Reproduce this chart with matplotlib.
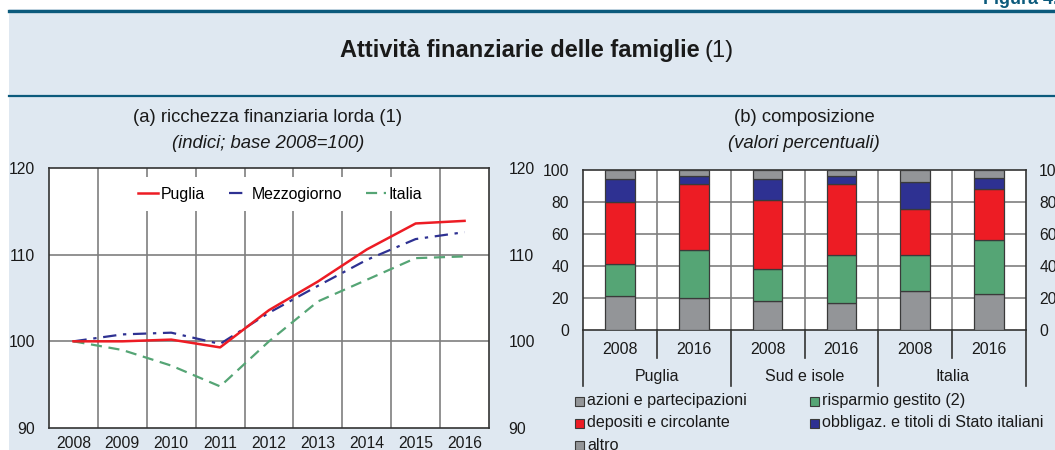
import matplotlib.pyplot as plt
import matplotlib.patches as mpatches
import numpy as np

plt.rcParams['font.family'] = ['Liberation Sans', 'DejaVu Sans']

# (a) ricchezza finanziaria lorda, indici 2008=100
years = ['2008', '2009', '2010', '2011', '2012', '2013', '2014', '2015', '2016']
puglia = [100.0, 100.0, 100.2, 99.3, 103.6, 106.9, 110.6, 113.6, 113.9]
mezzogiorno = [100.0, 100.8, 101.0, 99.7, 103.3, 106.4, 109.4, 111.8, 112.6]
italia = [100.0, 99.0, 97.2, 94.8, 100.0, 104.6, 107.1, 109.6, 109.8]

# (b) composizione, valori percentuali
bar_years = ['2008', '2016', '2008', '2016', '2008', '2016']
groups = ['Puglia', 'Sud e isole', 'Italia']
azioni = [21.1, 19.9, 18.0, 16.7, 24.3, 22.4]
risparmio = [20.1, 30.4, 20.1, 30.2, 22.4, 34.0]
depositi = [38.7, 41.0, 43.3, 44.4, 28.8, 31.8]
obbligaz = [14.2, 4.9, 12.7, 4.7, 17.1, 6.9]
altro = [5.9, 3.8, 5.9, 4.0, 7.4, 4.9]

bg = '#dfe8f1'
navy = '#0b5a7c'
grid_c = '#7f7f7f'
grey_c = '#939598'
green_c = '#55a575'
red_c = '#ed1c24'
blue_c = '#2e3192'
txt_c = '#1a1a1a'

fig = plt.figure(figsize=(10.55, 4.5), dpi=100)
fig.patch.set_facecolor('white')
# panel background and rules
fig.patches.append(mpatches.Rectangle((9/1055, 0), 1, 1 - 9/450, transform=fig.transFigure,
                                      facecolor=bg, edgecolor='none', zorder=-10))
fig.add_artist(plt.Line2D([9/1055, 1], [1 - 10.5/450]*2, color=navy, lw=2.4))
fig.add_artist(plt.Line2D([9/1055, 1], [1 - 96/450]*2, color=navy, lw=1.6))
fig.text(1058/1055, 1 - 4/450, 'Figura 4.', ha='right', va='baseline', color=navy,
         fontsize=13, fontweight='bold')

fig.text(700/1055, 1 - 51/450, 'Attività finanziarie delle famiglie', ha='right',
         va='center', fontsize=17, fontweight='bold', color=txt_c)
fig.text(705/1055, 1 - 51/450, '(1)', ha='left', va='center', fontsize=17, color=txt_c)

fig.text(268/1055, 1 - 117/450, '(a) ricchezza finanziaria lorda (1)', ha='center',
         va='center', fontsize=13.3, color=txt_c)
fig.text(268/1055, 1 - 143/450, '(indici; base 2008=100)', ha='center', va='center',
         fontsize=13.3, style='italic', color=txt_c)
fig.text(804/1055, 1 - 117/450, '(b) composizione', ha='center', va='center',
         fontsize=13.3, color=txt_c)
fig.text(804/1055, 1 - 143/450, '(valori percentuali)', ha='center', va='center',
         fontsize=13.3, style='italic', color=txt_c)

# ---------- panel (a)
ax1 = fig.add_axes([49/1055, 1 - 428/450, 440/1055, 260/450])
ax1.set_facecolor('white')
x = np.arange(len(years))
ax1.plot(x, puglia, color=red_c, lw=1.8, label='Puglia', zorder=4)
ax1.plot(x, mezzogiorno, color=blue_c, lw=1.6, dashes=(6, 3, 1.5, 3), label='Mezzogiorno', zorder=3)
ax1.plot(x, italia, color=green_c, lw=1.6, dashes=(5, 3), label='Italia', zorder=3)
ax1.set_xlim(-0.5, len(years) - 0.5)
ax1.set_ylim(90, 120)
ax1.set_yticks([90, 100, 110, 120])
ax1.set_xticks(x)
ax1.set_xticklabels(years)
for b in np.arange(0.5, len(years) - 0.5, 1):
    ax1.axvline(b, color=grid_c, lw=1.2, zorder=1)
for v in [100, 110]:
    ax1.axhline(v, color=grid_c, lw=1.2, zorder=1)
ax1.tick_params(axis='both', length=0, labelsize=11.3, colors=txt_c)
ax1.tick_params(axis='y', pad=10)
ax1.tick_params(axis='x', pad=6)
for s in ax1.spines.values():
    s.set_color('#333333')
    s.set_linewidth(1.2)
leg = ax1.legend(loc='center', bbox_to_anchor=(0.525, 0.9), ncol=3, frameon=True,
                 facecolor='white', edgecolor='none', framealpha=1, fontsize=11.4,
                 handlelength=1.3, handletextpad=0.15, columnspacing=1.5,
                 borderpad=0.6, fancybox=False)
leg.set_zorder(5)
ax1r = ax1.twinx()
ax1r.set_ylim(90, 120)
ax1r.set_yticks([90, 100, 110, 120])
ax1r.tick_params(axis='y', length=0, labelsize=11.3, pad=14, colors=txt_c)
for s in ax1r.spines.values():
    s.set_visible(False)

# ---------- panel (b)
ax2 = fig.add_axes([583/1055, 1 - 330/450, 443/1055, 160/450])
ax2.set_facecolor('white')
xb = np.arange(len(bar_years))
series = [(azioni, grey_c), (risparmio, green_c), (depositi, red_c),
          (obbligaz, blue_c), (altro, grey_c)]
bottom = np.zeros(len(xb))
for vals, c in series:
    ax2.bar(xb, vals, bottom=bottom, width=0.4, color=c, edgecolor='#3a3a3a',
            linewidth=0.9, zorder=3)
    bottom = bottom + np.array(vals)
ax2.set_xlim(-0.5, len(xb) - 0.5)
ax2.set_ylim(0, 100)
ax2.set_yticks(range(0, 101, 20))
ax2.set_xticks([])
for b in np.arange(0.5, len(xb) - 0.5, 1):
    ax2.axvline(b, color=grid_c, lw=1.2, zorder=1)
for v in [20, 40, 60, 80]:
    ax2.axhline(v, color=grid_c, lw=1.2, zorder=1)
ax2.tick_params(axis='y', length=0, labelsize=11.3, pad=10, colors=txt_c)
for s in ax2.spines.values():
    s.set_color('#333333')
    s.set_linewidth(1.2)
ax2r = ax2.twinx()
ax2r.set_ylim(0, 100)
ax2r.set_yticks(range(0, 101, 20))
ax2r.tick_params(axis='y', length=0, labelsize=11.3, pad=9.5, colors=txt_c)
for s in ax2r.spines.values():
    s.set_visible(False)

tr = ax2.get_xaxis_transform()
for i, yl in enumerate(bar_years):
    ax2.text(i, -0.12, yl, transform=tr, ha='center', va='center', fontsize=11.5,
             color=txt_c)
for b in [0.5, 2.5, 4.5]:
    ax2.plot([b, b], [0, -0.175], transform=tr, color='#333333', lw=1.2, clip_on=False)
for b in [-0.5, 1.5, 3.5, 5.5]:
    ax2.plot([b, b], [0, -0.35], transform=tr, color='#333333', lw=1.2, clip_on=False)
for g, name in enumerate(groups):
    ax2.text(2 * g + 0.5, -0.29, name, transform=tr, ha='center', va='center',
             fontsize=11.5, color=txt_c)

labels = ['azioni e partecipazioni', 'risparmio gestito (2)', 'depositi e circolante',
          'obbligaz. e titoli di Stato italiani', 'altro']
colors = [grey_c, green_c, red_c, blue_c, grey_c]
positions = [(579, 401), (814, 401), (579, 423), (814, 423), (579, 445)]
for (px, py), lab, c in zip(positions, labels, colors):
    fig.patches.append(mpatches.Rectangle(((px - 4) / 1055, 1 - (py + 4.5) / 450), 9 / 1055,
                                          9 / 450, transform=fig.transFigure, facecolor=c,
                                          edgecolor='#3a3a3a', linewidth=0.8))
    fig.text((px + 8) / 1055, 1 - py / 450, lab, ha='left', va='center', fontsize=11.6,
             color=txt_c)

fig.savefig('out.png', dpi=100, facecolor=fig.get_facecolor())
